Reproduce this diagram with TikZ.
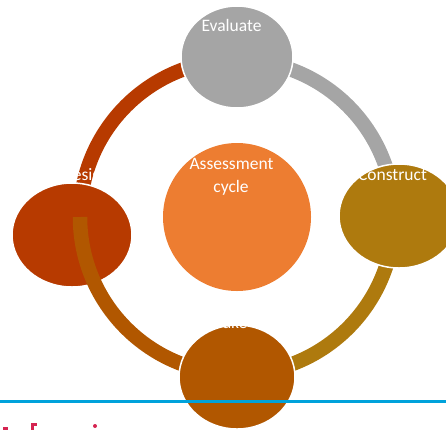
\documentclass[tikz,border=0pt]{standalone}
\usepackage{fontspec}
\setmainfont{Carlito}
\usetikzlibrary{shapes.geometric}
\definecolor{evalgray}{HTML}{A5A5A5}
\definecolor{constgold}{HTML}{AE7A0E}
\definecolor{takebrown}{HTML}{B15700}
\definecolor{designred}{HTML}{B73A00}
\definecolor{centerorange}{HTML}{ED7D31}
\definecolor{bluerule}{HTML}{00A2DB}
\definecolor{crimson}{HTML}{D52451}
\begin{document}
\begin{tikzpicture}[x=1pt,y=-1pt,
  ring/.style={line width=14.5pt},
  bubble/.style={ellipse,draw=white,line width=1.5pt,inner sep=0pt},
  lbl/.style={text=white,font=\fontsize{17.5}{21}\selectfont,anchor=base,inner sep=0pt}]
\useasboundingbox (0,0) rectangle (446,429);
\clip (0,0) rectangle (446,429);
\coordinate (O) at (237,217);
% arcs under the bubbles
\draw[ring,designred] (O) ++(180:157) arc[start angle=180,end angle=270,radius=157];
\draw[ring,evalgray] (O) ++(-90:157) arc[start angle=-90,end angle=0,radius=157];
\draw[ring,constgold] (O) ++(0:157) arc[start angle=0,end angle=90,radius=157];
% bubbles
\node[bubble,fill=evalgray,minimum width=112pt,minimum height=102pt] (eval) at (237,57) {};
\node[bubble,fill=constgold,minimum width=120pt,minimum height=104pt] (cons) at (399,216) {};
\node[bubble,fill=designred,minimum width=120pt,minimum height=104pt] (design) at (72,235) {};
\draw[ring,takebrown] (O) ++(90:157) arc[start angle=90,end angle=180,radius=157];
\node[bubble,fill=takebrown,minimum width=116pt,minimum height=104pt] (take) at (237,377) {};
\node[circle,fill=centerorange,minimum size=148pt,inner sep=0pt] (center) at (237,217) {};
% labels
\node[lbl] (tEval) at (231.5,31) {Evaluate};
\node[lbl] (tCons) at (392.5,180) {Construct};
\node[lbl] (tDesign) at (86,180.5) {Design};
\node[lbl] (tTake) at (231.5,328) {Take};
\node[lbl] (tCen1) at (231.5,169) {Assessment};
\node[lbl] (tCen2) at (231,192) {cycle};
% rule and cut-off text
\fill[bluerule] (0,400) rectangle (446,403);
\fill[crimson] (3,427) rectangle (8,429.5);
\fill[crimson] (31,423) rectangle (34,429.5);
\fill[crimson] (34,423) rectangle (37,425.5);
\fill[crimson] (95,426) circle[radius=2];
\end{tikzpicture}
\end{document}
